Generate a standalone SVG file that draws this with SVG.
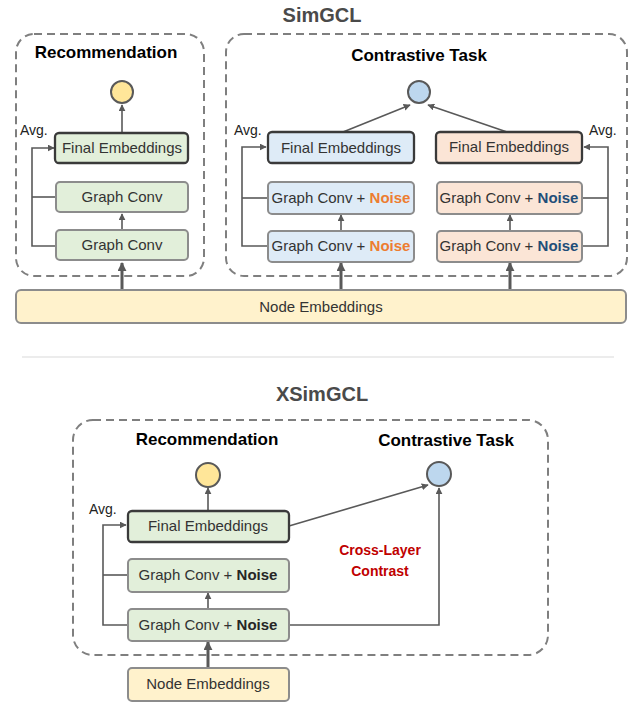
<svg xmlns="http://www.w3.org/2000/svg" width="641" height="705" viewBox="0 0 641 705">
<style>
text{font-family:"Liberation Sans",Arial,sans-serif;}
.title{font-size:20px;font-weight:bold;fill:#4a4a4a;text-anchor:middle;}
.sec{font-size:17px;font-weight:bold;fill:#000;text-anchor:middle;}
.lbl{font-size:15px;fill:#333;text-anchor:middle;}
.avg{font-size:14px;fill:#222;}
.b{font-weight:bold;}
.dash{fill:none;stroke:#7f7f7f;stroke-width:2;stroke-dasharray:8 5;}
.g{fill:#e2efda;stroke:#8c8c8c;stroke-width:2;}
.bl{fill:#deebf7;stroke:#8c8c8c;stroke-width:2;}
.or{fill:#fbe5d6;stroke:#8c8c8c;stroke-width:2;}
.y{fill:#fff2cc;stroke:#8c8c8c;stroke-width:2;}
.fin{stroke:#3a3a3a;stroke-width:2.3;}
.c{fill:none;stroke:#595959;stroke-width:1.6;}
.thick{fill:none;stroke:#595959;stroke-width:3;}
.cy{fill:#ffe699;stroke:#595959;stroke-width:2;}
.cb{fill:#bdd7ee;stroke:#595959;stroke-width:2;}
.red{font-size:14px;font-weight:bold;fill:#c00000;text-anchor:middle;}
</style>
<defs>
<marker id="ah" viewBox="0 0 10 10" refX="9" refY="5" markerWidth="7" markerHeight="7" markerUnits="userSpaceOnUse" orient="auto"><path d="M0,0 L10,5 L0,10 z" fill="#595959"/></marker>
<marker id="ahb" viewBox="0 0 10 10" refX="9" refY="5" markerWidth="9" markerHeight="9" markerUnits="userSpaceOnUse" orient="auto"><path d="M0,0 L10,5 L0,10 z" fill="#595959"/></marker>
</defs>

<text class="title" x="322" y="22">SimGCL</text>
<text class="title" x="322" y="401">XSimGCL</text>
<line x1="22" y1="357" x2="614" y2="357" stroke="#d9d9d9" stroke-width="1"/>

<g id="containers">
<rect class="dash" x="16" y="34" width="188" height="242" rx="18"/>
<rect class="dash" x="226" y="34" width="401" height="242" rx="18"/>
<rect class="dash" x="73" y="420" width="475" height="235" rx="20"/>
<text class="sec" x="106" y="58">Recommendation</text>
<text class="sec" x="419" y="61">Contrastive Task</text>
<text class="sec" x="207" y="445">Recommendation</text>
<text class="sec" x="446" y="446">Contrastive Task</text>
</g>

<g id="connectors">
<line class="c" x1="122" y1="133" x2="122" y2="105" marker-end="url(#ah)"/>
<line class="c" x1="122" y1="230" x2="122" y2="214" marker-end="url(#ah)"/>
<polyline class="c" points="56,246 32,246 32,148 54,148" marker-end="url(#ah)"/>
<line class="c" x1="32" y1="197" x2="56" y2="197"/>
<line class="thick" x1="122" y1="290" x2="122" y2="263" marker-end="url(#ahb)"/>
<line class="c" x1="343" y1="132" x2="410" y2="105" marker-end="url(#ah)"/>
<line class="c" x1="507" y1="132" x2="428" y2="105" marker-end="url(#ah)"/>
<line class="c" x1="341" y1="231" x2="341" y2="215" marker-end="url(#ah)"/>
<line class="c" x1="510" y1="231" x2="510" y2="215" marker-end="url(#ah)"/>
<polyline class="c" points="268,246 242,246 242,147 266,147" marker-end="url(#ah)"/>
<line class="c" x1="242" y1="198" x2="268" y2="198"/>
<polyline class="c" points="582,246 608,246 608,147 584,147" marker-end="url(#ah)"/>
<line class="c" x1="608" y1="198" x2="582" y2="198"/>
<line class="thick" x1="341" y1="290" x2="341" y2="263" marker-end="url(#ahb)"/>
<line class="thick" x1="510" y1="290" x2="510" y2="263" marker-end="url(#ahb)"/>
<line class="c" x1="208" y1="511" x2="208" y2="488" marker-end="url(#ah)"/>
<line class="c" x1="208" y1="609" x2="208" y2="593" marker-end="url(#ah)"/>
<polyline class="c" points="128,625 103,625 103,525 126,525" marker-end="url(#ah)"/>
<line class="c" x1="103" y1="575" x2="128" y2="575"/>
<line class="c" x1="289" y1="526" x2="428" y2="485" marker-end="url(#ah)"/>
<polyline class="c" points="289,625 439,625 439,488" marker-end="url(#ah)"/>
<line class="thick" x1="208" y1="668" x2="208" y2="642" marker-end="url(#ahb)"/>
</g>

<g id="node-embeddings-top">
<rect class="y" x="16" y="290" width="610" height="33" rx="5"/>
<text class="lbl" x="321" y="312">Node Embeddings</text>
</g>

<g id="rec-circle"><circle class="cy" cx="122" cy="92" r="11"/></g>
<g id="rec-final"><rect class="g fin" x="55" y="133" width="133" height="30" rx="4"/><text class="lbl" x="122" y="153">Final Embeddings</text></g>
<g id="rec-conv1"><rect class="g" x="56" y="182" width="132" height="30" rx="4"/><text class="lbl" x="122" y="202">Graph Conv</text></g>
<g id="rec-conv2"><rect class="g" x="56" y="230" width="132" height="30" rx="4"/><text class="lbl" x="122" y="250">Graph Conv</text></g>
<text class="avg" x="20" y="135">Avg.</text>

<g id="con-circle"><circle class="cb" cx="419" cy="92" r="11"/></g>
<g id="blue-final"><rect class="bl fin" x="268" y="132" width="146" height="31" rx="4"/><text class="lbl" x="341" y="153">Final Embeddings</text></g>
<g id="blue-conv1"><rect class="bl" x="268" y="182" width="146" height="32" rx="4"/><text class="lbl" x="341" y="203">Graph Conv + <tspan class="b" fill="#ed7d31">Noise</tspan></text></g>
<g id="blue-conv2"><rect class="bl" x="268" y="231" width="146" height="31" rx="4"/><text class="lbl" x="341" y="251">Graph Conv + <tspan class="b" fill="#ed7d31">Noise</tspan></text></g>
<g id="orange-final"><rect class="or fin" x="436" y="132" width="146" height="31" rx="4"/><text class="lbl" x="509" y="152">Final Embeddings</text></g>
<g id="orange-conv1"><rect class="or" x="437" y="182" width="145" height="32" rx="4"/><text class="lbl" x="509" y="203">Graph Conv + <tspan class="b" fill="#1f4e79">Noise</tspan></text></g>
<g id="orange-conv2"><rect class="or" x="437" y="231" width="145" height="31" rx="4"/><text class="lbl" x="509" y="251">Graph Conv + <tspan class="b" fill="#1f4e79">Noise</tspan></text></g>
<text class="avg" x="234" y="135">Avg.</text>
<text class="avg" x="589" y="135">Avg.</text>

<g id="x-circle-rec"><circle class="cy" cx="208" cy="475" r="12"/></g>
<g id="x-circle-con"><circle class="cb" cx="439" cy="474" r="12"/></g>
<g id="x-final"><rect class="g fin" x="128" y="511" width="161" height="31" rx="4"/><text class="lbl" x="208" y="531">Final Embeddings</text></g>
<g id="x-conv1"><rect class="g" x="128" y="559" width="161" height="33" rx="4"/><text class="lbl" x="208" y="580">Graph Conv + <tspan class="b" fill="#262626">Noise</tspan></text></g>
<g id="x-conv2"><rect class="g" x="128" y="609" width="161" height="32" rx="4"/><text class="lbl" x="208" y="630">Graph Conv + <tspan class="b" fill="#262626">Noise</tspan></text></g>
<g id="x-node"><rect class="y" x="128" y="668" width="161" height="33" rx="4"/><text class="lbl" x="208" y="689">Node Embeddings</text></g>
<text class="avg" x="89" y="514">Avg.</text>
<text class="red" x="380" y="555">Cross-Layer</text>
<text class="red" x="380" y="576">Contrast</text>
</svg>
